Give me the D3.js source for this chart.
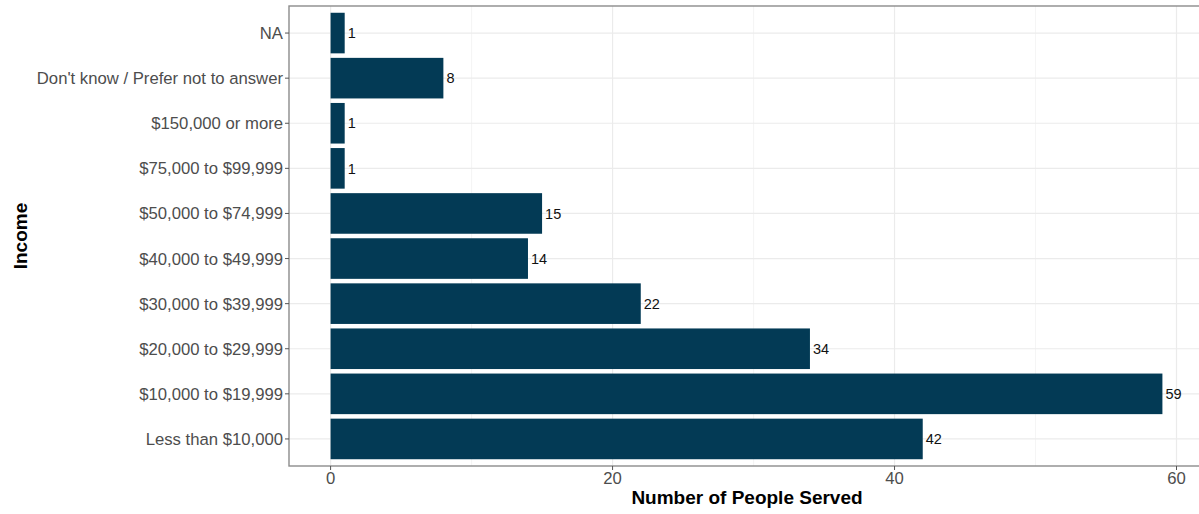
<!DOCTYPE html>
<html>
<head>
<meta charset="utf-8">
<script src="https://cdn.jsdelivr.net/npm/d3@7"></script>
<style>
  html, body { margin: 0; padding: 0; background: #fff; }
  svg { display: block; font-family: "Liberation Sans", Arial, sans-serif; }
</style>
</head>
<body>
<svg id="chart" width="1199" height="514"></svg>
<script>
const categories = [
  "NA",
  "Don't know / Prefer not to answer",
  "$150,000 or more",
  "$75,000 to $99,999",
  "$50,000 to $74,999",
  "$40,000 to $49,999",
  "$30,000 to $39,999",
  "$20,000 to $29,999",
  "$10,000 to $19,999",
  "Less than $10,000"
];
const counts = [1, 8, 1, 1, 15, 14, 22, 34, 59, 42];
const xTicks = [0, 20, 40, 60];
const xMinor = [10, 30, 50];
const xTitle = "Number of People Served";
const yTitle = "Income";

const svg = d3.select("#chart");
const panel = { left: 289, right: 1204, top: 6, bottom: 466 };

const x = d3.scaleLinear().domain([-2.95, 61.95]).range([panel.left, panel.right]);
// discrete scale with ggplot-like expansion (0.6 units each side)
const y = d3.scalePoint().domain(categories)
  .range([panel.top, panel.bottom]).padding(0.6);
const step = y.step();
const barH = step * 0.9;

const g = svg.append("g");

// minor grid
g.selectAll(".minor").data(xMinor).enter().append("line")
  .attr("x1", d => x(d)).attr("x2", d => x(d))
  .attr("y1", panel.top).attr("y2", panel.bottom)
  .attr("stroke", "#f2f2f2").attr("stroke-width", 0.8);
// major x grid
g.selectAll(".majx").data(xTicks).enter().append("line")
  .attr("x1", d => x(d)).attr("x2", d => x(d))
  .attr("y1", panel.top).attr("y2", panel.bottom)
  .attr("stroke", "#ebebeb").attr("stroke-width", 1.2);
// major y grid
g.selectAll(".majy").data(categories).enter().append("line")
  .attr("x1", panel.left).attr("x2", panel.right)
  .attr("y1", d => y(d)).attr("y2", d => y(d))
  .attr("stroke", "#ebebeb").attr("stroke-width", 1.2);

// bars
g.selectAll(".bar").data(categories).enter().append("rect")
  .attr("x", x(0))
  .attr("y", d => y(d) - barH / 2)
  .attr("width", (d, i) => x(counts[i]) - x(0))
  .attr("height", barH)
  .attr("fill", "#033a55");

// value labels
g.selectAll(".val").data(categories).enter().append("text")
  .attr("x", (d, i) => x(counts[i]) + 3)
  .attr("y", d => y(d))
  .attr("dy", "0.36em")
  .attr("font-size", 14.5)
  .attr("fill", "#111")
  .text((d, i) => counts[i]);

// panel border
g.append("rect")
  .attr("x", panel.left).attr("y", panel.top)
  .attr("width", panel.right - panel.left).attr("height", panel.bottom - panel.top)
  .attr("fill", "none").attr("stroke", "#8c8c8c").attr("stroke-width", 1.4);

// y axis ticks + labels
g.selectAll(".yt").data(categories).enter().append("line")
  .attr("x1", panel.left - 4).attr("x2", panel.left)
  .attr("y1", d => y(d)).attr("y2", d => y(d))
  .attr("stroke", "#555").attr("stroke-width", 1);
g.selectAll(".yl").data(categories).enter().append("text")
  .attr("x", panel.left - 6)
  .attr("y", d => y(d))
  .attr("dy", "0.36em")
  .attr("text-anchor", "end")
  .attr("font-size", 16.7)
  .attr("fill", "#4d4d4d")
  .text(d => d);

// x axis ticks + labels
g.selectAll(".xt").data(xTicks).enter().append("line")
  .attr("x1", d => x(d)).attr("x2", d => x(d))
  .attr("y1", panel.bottom).attr("y2", panel.bottom + 4)
  .attr("stroke", "#555").attr("stroke-width", 1);
g.selectAll(".xl").data(xTicks).enter().append("text")
  .attr("x", d => x(d))
  .attr("y", panel.bottom + 18)
  .attr("text-anchor", "middle")
  .attr("font-size", 16.7)
  .attr("fill", "#4d4d4d")
  .text(d => d);

// titles
svg.append("text")
  .attr("x", 747)
  .attr("y", 504)
  .attr("text-anchor", "middle")
  .attr("font-size", 19)
  .attr("font-weight", "bold")
  .attr("fill", "#000")
  .text(xTitle);
svg.append("text")
  .attr("transform", `translate(27, ${(panel.top + panel.bottom) / 2}) rotate(-90)`)
  .attr("text-anchor", "middle")
  .attr("font-size", 19)
  .attr("font-weight", "bold")
  .attr("fill", "#000")
  .text(yTitle);
</script>
</body>
</html>
